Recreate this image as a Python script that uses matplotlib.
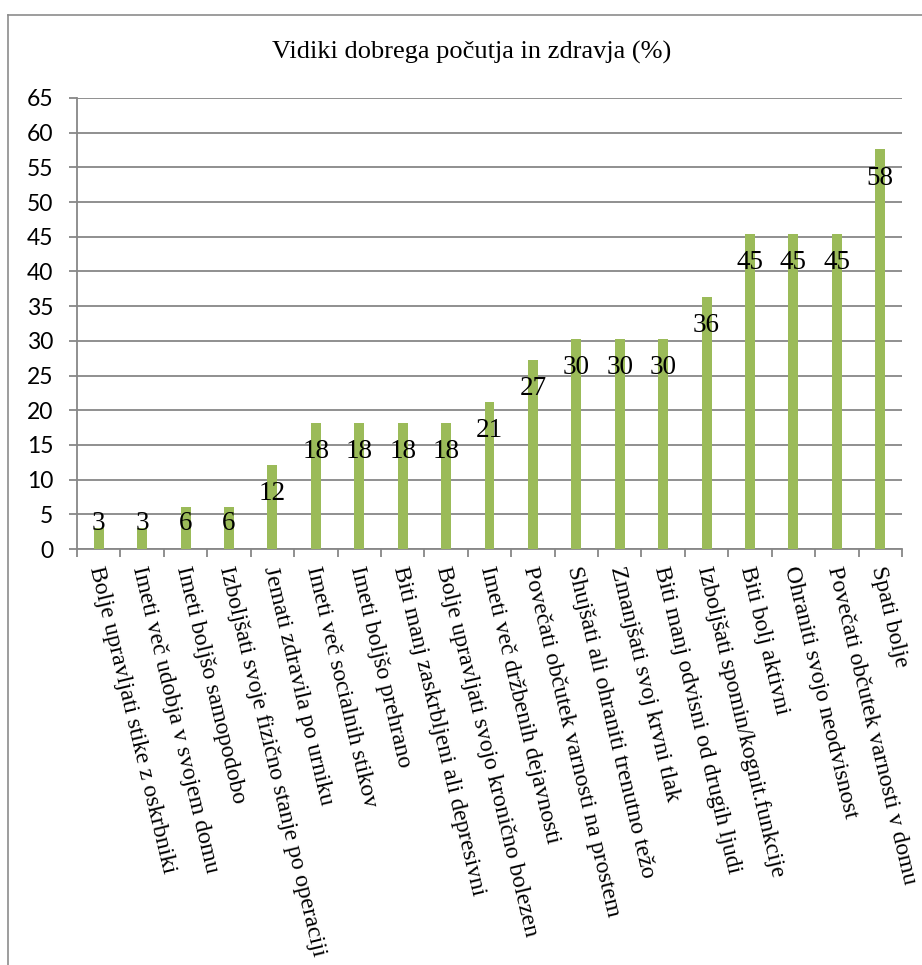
import numpy as np
import matplotlib
matplotlib.use('Agg')
import matplotlib.pyplot as plt
from matplotlib.lines import Line2D
import matplotlib.transforms as mtransforms

# podatki
categories = [
    'Bolje upravljati stike z oskrbniki',
    'Imeti več udobja v svojem domu',
    'Imeti boljšo samopodobo',
    'Izboljšati svoje fizično stanje po operaciji',
    'Jemati zdravila po urniku',
    'Imeti več socialnih stikov',
    'Imeti boljšo prehrano',
    'Biti manj zaskrbljeni ali depresivni',
    'Bolje upravljati svojo kronično bolezen',
    'Imeti več držbenih dejavnosti',
    'Povečati občutek varnosti na prostem',
    'Shujšati ali ohraniti trenutno težo',
    'Zmanjšati svoj krvni tlak',
    'Biti manj odvisni od drugih ljudi',
    'Izboljšati spomin/kognit.funkcije',
    'Biti bolj aktivni',
    'Ohraniti svojo neodvisnost',
    'Povečati občutek varnosti v domu',
    'Spati bolje',
]
values = [3.03, 3.03, 6.06, 6.06, 12.12, 18.18, 18.18, 18.18, 18.18, 21.21,
          27.27, 30.30, 30.30, 30.30, 36.36, 45.45, 45.45, 45.45, 57.58]
y_ticks = list(range(0, 70, 5))

W, H = 922, 965
fig = plt.figure(figsize=(W / 100, H / 100), dpi=100)
fig.patch.set_facecolor('white')

# okvir grafa (zgoraj in levo)
frame_col = '#8c8c8c'
fig.add_artist(Line2D([8 / W, 1.0], [1 - 15 / H, 1 - 15 / H], color=frame_col, lw=1.2))
fig.add_artist(Line2D([8 / W, 8 / W], [0.0, 1 - 15 / H], color=frame_col, lw=1.2))

# os
x0, x1, ytop, ybot = 77, 902, 98, 549
ax = fig.add_axes([x0 / W, 1 - ybot / H, (x1 - x0) / W, (ybot - ytop) / H])

x = np.arange(len(values))
ax.bar(x, values, width=0.23, color='#9BBB59', zorder=3)

ax.set_xlim(-0.5, len(values) - 0.5)
ax.set_ylim(0, 65)
ax.set_yticks(y_ticks)
ax.set_yticklabels([str(t) for t in y_ticks], family='Lato', fontsize=16.5)
ax.grid(axis='y', color='#878787', lw=1.3, zorder=1)
ax.tick_params(axis='y', length=6, width=1.3, color='#878787', pad=11)

for s in ['top', 'right']:
    ax.spines[s].set_visible(False)
for s in ['left', 'bottom']:
    ax.spines[s].set_color('#878787')
    ax.spines[s].set_linewidth(1.3)

# kljukice med kategorijami
ax.set_xticks(np.arange(-0.5, len(values), 1.0))
ax.set_xticklabels([])
ax.tick_params(axis='x', length=6, width=1.3, color='#878787', direction='out')

# oznake kategorij
trans = mtransforms.blended_transform_factory(ax.transData, ax.transAxes)
for i, lab in enumerate(categories):
    ax.text(i - 0.08, -18 / (ybot - ytop), lab, transform=trans, rotation=-76.5,
            rotation_mode='anchor', ha='left', va='center',
            family='Liberation Serif', fontsize=17.3)

# oznake vrednosti
px = 65 / (ybot - ytop)
for i, v in enumerate(values):
    yy = max(v - 29 * px, 25 * px)
    ax.text(i, yy, f'{v:.0f}', ha='center', va='center',
            family='Liberation Serif', fontsize=19.5, zorder=4)

fig.text(472 / W, 1 - 52 / H, 'Vidiki dobrega počutja in zdravja (%)',
         ha='center', va='center', family='Liberation Serif', fontsize=19)

plt.savefig('out.png', dpi=100)
